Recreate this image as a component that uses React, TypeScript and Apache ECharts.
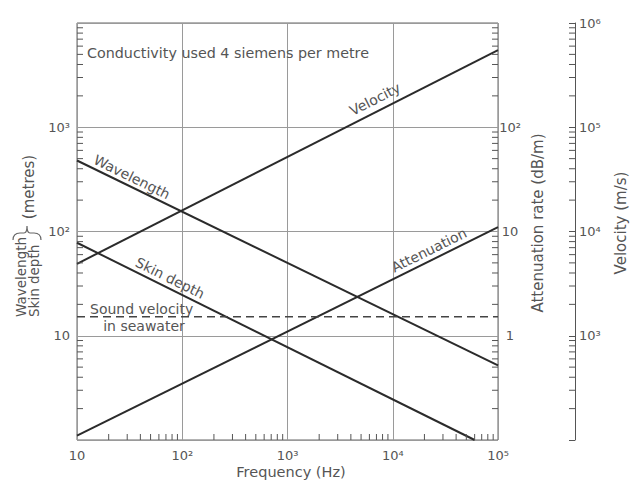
import React, { useEffect, useRef } from 'react';
import * as echarts from 'echarts';

// ---- data ----
const wavelengthFreq = [10, 100000];
const wavelengthValues = [480, 5.2]; // metres
const skinDepthFreq = [10, 60000];
const skinDepthValues = [78, 1]; // metres
const velocityFreq = [10, 100000];
const velocityValues = [4900, 550000]; // m/s
const attenuationFreq = [10, 100000];
const attenuationValues = [0.11, 11]; // dB/m
const soundFreq = [10, 100000];
const soundValues = [1520, 1520]; // m/s

// ---- tick labels ----
const xTickValues = [10, 100, 1000, 10000, 100000];
const xTickLabels = ['10', '10²', '10³', '10⁴', '10⁵'];
const leftTickValues = [10, 100, 1000];
const leftTickLabels = ['10', '10²', '10³'];
const attTickValues = [1, 10, 100];
const attTickLabels = ['1', '10', '10²'];
const velTickValues = [1000, 10000, 100000, 1000000];
const velTickLabels = ['10³', '10⁴', '10⁵', '10⁶'];

const X_MIN = 10, X_MAX = 100000;
const L_MIN = 1, L_MAX = 10000;
const A_MIN = 0.1, A_MAX = 1000;
const V_MIN = 100, V_MAX = 1000000;
const VEL_OFFSET = 77;
const TICK = 6;
const FONT = 'DejaVu Sans';
const TXT = '#555';
const LINE = '#2b2b2b';

const pairs = (xs: number[], ys: number[]) => xs.map((x, i) => [x, ys[i]]);

const labelFor = (values: number[], labels: string[]) => (v: number) => {
  for (let i = 0; i < values.length; i++) {
    if (Math.abs(values[i] - v) / values[i] < 1e-6) return labels[i];
  }
  return '';
};

// minor tick positions (2..9 within every decade of an axis range)
const minorTicks = (lo: number, hi: number) => {
  const out: number[] = [];
  for (let d = lo; d < hi * 0.999; d *= 10) {
    for (let m = 2; m <= 9; m++) out.push(m * d);
  }
  return out;
};

const lineSeries = (name: string, data: number[][], yAxisIndex: number, dashed = false) => ({
  name,
  type: 'line',
  xAxisIndex: 0,
  yAxisIndex,
  data,
  showSymbol: false,
  symbol: 'none',
  clip: true,
  lineStyle: dashed
    ? { color: '#444', width: 1.5, type: [8, 5] }
    : { color: LINE, width: 2 },
});

const rotText = (text: string, x: number, y: number, rotation: number, align = 'center', size = 14) => ({
  type: 'text',
  x,
  y,
  rotation,
  silent: true,
  style: {
    text,
    fill: TXT,
    font: `${size}px "${FONT}"`,
    align,
    verticalAlign: 'middle',
  },
});

const tickLine = (x1: number, y1: number, x2: number, y2: number) => ({
  type: 'line',
  silent: true,
  z: 10,
  shape: { x1, y1, x2, y2 },
  style: { stroke: '#555', lineWidth: 1 },
});

// horizontal curly brace, tip pointing up (local coords, 28 x 14)
echarts.graphic.registerShape(
  'brace',
  echarts.graphic.extendPath(
    'M0 14 Q0 7 7 7 L11 7 Q14 7 14 0 Q14 7 17 7 L21 7 Q28 7 28 14',
    {}
  )
);

export default function App() {
  const ref = useRef<HTMLDivElement>(null);

  useEffect(() => {
    if (!ref.current) return;
    const chart = echarts.init(ref.current, null, { renderer: 'svg' });
    const axisLabelBase = { color: TXT, fontFamily: FONT, fontSize: 13 };

    const option: any = {
      animation: false,
      grid: {
        left: 77,
        top: 23,
        width: 421,
        height: 417,
        show: true,
        borderColor: '#666',
        borderWidth: 1,
        containLabel: false,
        outerBoundsMode: 'none',
      },
      xAxis: [
        {
          type: 'log',
          logBase: 10,
          min: X_MIN,
          max: X_MAX,
          position: 'bottom',
          axisLine: { show: false, onZero: false },
          axisTick: { show: false },
          splitLine: { show: true, lineStyle: { color: '#9a9a9a', width: 1 } },
          axisLabel: { ...axisLabelBase, margin: 9, formatter: labelFor(xTickValues, xTickLabels) },
        },
      ],
      yAxis: [
        {
          type: 'log',
          logBase: 10,
          min: L_MIN,
          max: L_MAX,
          position: 'left',
          axisLine: { show: false, onZero: false },
          axisTick: { show: false },
          splitLine: { show: true, lineStyle: { color: '#9a9a9a', width: 1 } },
          axisLabel: { ...axisLabelBase, margin: 7, formatter: labelFor(leftTickValues, leftTickLabels) },
        },
        {
          type: 'log',
          logBase: 10,
          min: A_MIN,
          max: A_MAX,
          position: 'right',
          axisLine: { show: false, onZero: false },
          axisTick: { show: false },
          splitLine: { show: false },
          axisLabel: {
            ...axisLabelBase,
            margin: 12,
            align: 'center',
            formatter: labelFor(attTickValues, attTickLabels),
          },
        },
        {
          type: 'log',
          logBase: 10,
          min: V_MIN,
          max: V_MAX,
          position: 'right',
          offset: VEL_OFFSET,
          axisLine: { show: true, onZero: false, lineStyle: { color: '#555', width: 1 } },
          axisTick: { show: true, inside: true, length: TICK, lineStyle: { color: '#555', width: 1 } },
          splitLine: { show: false },
          axisLabel: { ...axisLabelBase, margin: 4, formatter: labelFor(velTickValues, velTickLabels) },
        },
      ],
      series: [
        lineSeries('Wavelength', pairs(wavelengthFreq, wavelengthValues), 0),
        lineSeries('Skin depth', pairs(skinDepthFreq, skinDepthValues), 0),
        lineSeries('Velocity', pairs(velocityFreq, velocityValues), 2),
        lineSeries('Attenuation', pairs(attenuationFreq, attenuationValues), 1),
        lineSeries('Sound velocity in seawater', pairs(soundFreq, soundValues), 2, true),
      ],
    };

    chart.setOption(option);

    const annotations: any[] = [
      rotText('Conductivity used 4 siemens per metre', 87, 53, 0, 'left', 14.3),
      rotText('Velocity', 375, 99, 0.47),
      rotText('Wavelength', 132, 177, -0.455),
      rotText('Skin depth', 170, 278, -0.46),
      rotText('Attenuation', 429, 250, 0.46),
      rotText('Sound velocity', 90, 309, 0, 'left'),
      rotText('in seawater', 144, 326, 0),
      rotText('Frequency (Hz)', 291, 472, 0, 'center', 14.5),
      rotText('Wavelength', 21, 317, Math.PI / 2, 'left', 13.5),
      rotText('Skin depth', 34, 317, Math.PI / 2, 'left', 13.5),
      {
        type: 'brace',
        x: 13,
        y: 226,
        silent: true,
        style: { stroke: '#666', fill: 'none', lineWidth: 1.2 },
      },
      rotText('(metres)', 29, 187, Math.PI / 2, 'center', 15),
      rotText('Attenuation rate (dB/m)', 538, 223, Math.PI / 2, 'center', 15),
      rotText('Velocity (m/s)', 621, 223, Math.PI / 2, 'center', 15),
    ];

    // minor ticks, positioned through the chart's own axes
    const ticks: any[] = [];
    try {
      const px = (finder: any, v: number) => Number(chart.convertToPixel(finder, v as any));
      const xl = px({ xAxisIndex: 0 }, X_MIN);
      const xr = px({ xAxisIndex: 0 }, X_MAX);
      const yb = px({ yAxisIndex: 0 }, L_MIN);
      const xv = xr + VEL_OFFSET;
      minorTicks(X_MIN, X_MAX).forEach((v) => {
        const x = px({ xAxisIndex: 0 }, v);
        if (isFinite(x)) ticks.push(tickLine(x, yb, x, yb - TICK));
      });
      minorTicks(L_MIN, L_MAX).forEach((v) => {
        const y = px({ yAxisIndex: 0 }, v);
        if (isFinite(y)) ticks.push(tickLine(xl, y, xl + TICK, y));
      });
      minorTicks(A_MIN, A_MAX).forEach((v) => {
        const y = px({ yAxisIndex: 1 }, v);
        if (isFinite(y)) ticks.push(tickLine(xr, y, xr - TICK, y));
      });
      minorTicks(V_MIN, V_MAX).forEach((v) => {
        const y = px({ yAxisIndex: 2 }, v);
        if (isFinite(y)) ticks.push(tickLine(xv, y, xv - TICK, y));
      });
    } catch (e) {
      // leave ticks empty if conversion is unavailable
    }

    chart.setOption({ graphic: [...annotations, ...ticks] });
    return () => chart.dispose();
  }, []);

  return (
    <div style={{ position: 'fixed', left: 0, top: 0, width: 633, height: 482, background: '#fff' }}>
      <div ref={ref} style={{ width: 633, height: 482 }} />
    </div>
  );
}
